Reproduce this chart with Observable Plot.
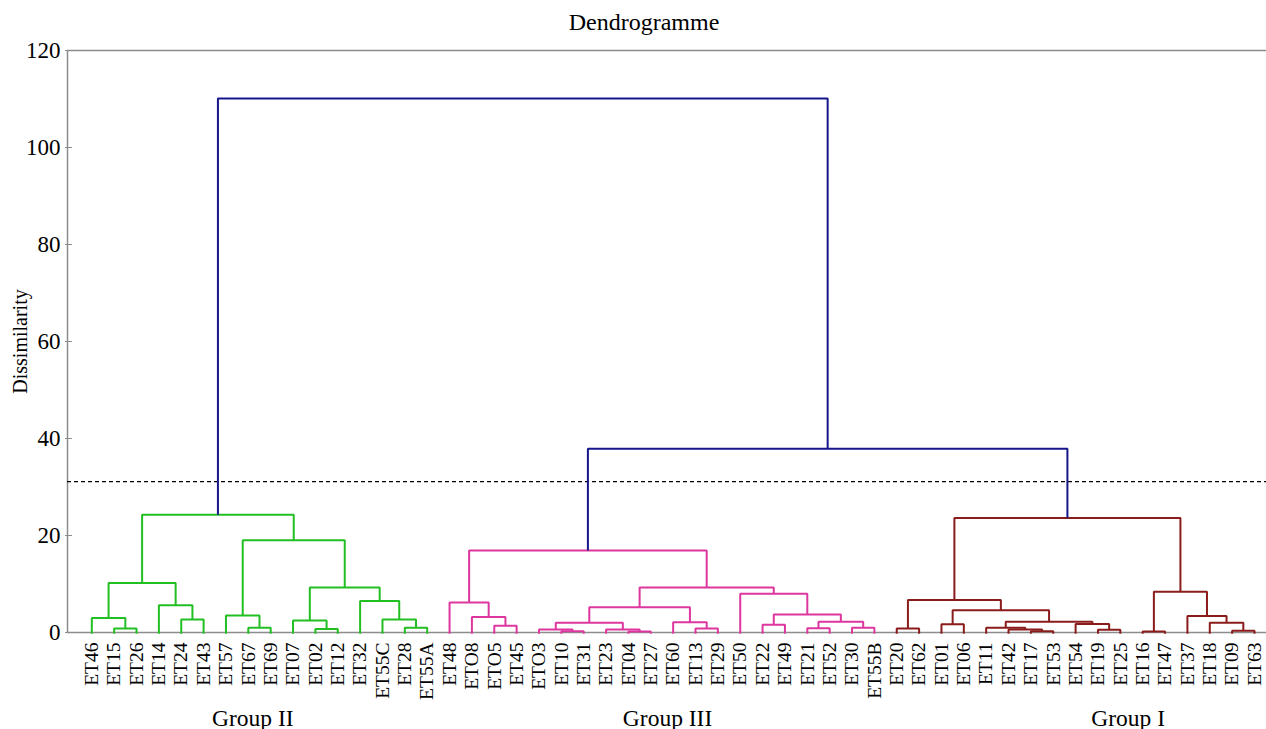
<!DOCTYPE html>
<html><head><meta charset="utf-8">
<script src="https://cdn.jsdelivr.net/npm/d3@7"></script>
<script src="https://cdn.jsdelivr.net/npm/@observablehq/plot@0.6"></script>
<style>body{margin:0;background:#fff} #chart svg{display:block}</style>
</head><body><div id="chart"></div>
<script>
// ---- data ----
const leaves = ["ET46","ET15","ET26","ET14","ET24","ET43","ET57","ET67","ET69","ET07","ET02","ET12","ET32","ET55C","ET28","ET55A",
  "ET48","ETO8","ETO5","ET45","ETO3","ET10","ET31","ET23","ET04","ET27","ET60","ET13","ET29","ET50","ET22","ET49","ET21","ET52","ET30","ET55B",
  "ET20","ET62","ET01","ET06","ET11","ET42","ET17","ET53","ET54","ET19","ET25","ET16","ET47","ET37","ET18","ET09","ET63"];
const leafGroups = [
  "II","II","II","II","II","II","II","II","II","II","II","II","II","II","II","II",
  "III","III","III","III","III","III","III","III","III","III","III","III","III","III","III","III","III","III","III","III",
  "I","I","I","I","I","I","I","I","I","I","I","I","I","I","I","I","I"];
// merges: [child A, child B, dissimilarity]; numbers refer to earlier merges
const merges = [
  ["ET15","ET26",0.8],   //0
  ["ET46",0,3.0],        //1
  ["ET24","ET43",2.7],   //2
  ["ET14",2,5.6],        //3
  [1,3,10.2],            //4
  ["ET67","ET69",1.0],   //5
  ["ET57",5,3.5],        //6
  ["ET02","ET12",0.7],   //7
  ["ET07",7,2.5],        //8
  ["ET28","ET55A",1.0],  //9
  ["ET55C",9,2.7],       //10
  ["ET32",10,6.5],       //11
  [8,11,9.3],            //12
  [6,12,19.0],           //13
  [4,13,24.3],           //14
  ["ETO5","ET45",1.4],   //15
  ["ETO8",15,3.2],       //16
  ["ET48",16,6.2],       //17
  ["ET10","ET31",0.25],  //18
  ["ETO3",18,0.6],       //19
  ["ET04","ET27",0.2],   //20
  ["ET23",20,0.6],       //21
  [19,21,2.0],           //22
  ["ET13","ET29",0.8],   //23
  ["ET60",23,2.1],       //24
  [22,24,5.2],           //25
  ["ET22","ET49",1.6],   //26
  ["ET21","ET52",0.9],   //27
  ["ET30","ET55B",1.0],  //28
  [27,28,2.2],           //29
  [26,29,3.7],           //30
  ["ET50",30,8.0],       //31
  [25,31,9.3],           //32
  [17,32,16.9],          //33
  ["ET20","ET62",0.8],   //34
  ["ET01","ET06",1.7],   //35
  ["ET17","ET53",0.25],  //36
  ["ET42",36,0.6],       //37
  ["ET11",37,1.0],       //38
  ["ET19","ET25",0.55],  //39
  ["ET54",39,1.75],      //40
  [38,40,2.2],           //41
  [35,41,4.6],           //42
  [34,42,6.7],           //43
  ["ET16","ET47",0.2],   //44
  ["ET09","ET63",0.35],  //45
  ["ET18",45,2.0],       //46
  ["ET37",46,3.4],       //47
  [44,47,8.4],           //48
  [43,48,23.6],          //49
  [33,49,37.9],          //50
  [14,50,110.1]          //51
];
const cutHeight = 31.1;
const yTicks = [0,20,40,60,80,100,120];
const groupLabels = ["Group II","Group III","Group I"];
const groupLabelPos = [7.2, 25.75, 46.35];
const title = "Dendrogramme";
const yLabel = "Dissimilarity";

// ---- build link paths ----
const nodes = new Map();
leaves.forEach((name,i)=>nodes.set(name,{x:i,h:0,group:leafGroups[i]}));
const links = [];
merges.forEach(([a,b,h],k)=>{
  const A = nodes.get(a), B = nodes.get(b);
  const group = A.group === B.group ? A.group : "root";
  nodes.set(k,{x:(A.x+B.x)/2,h,group});
  links.push({id:k,x:A.x,y:A.h,group},{id:k,x:A.x,y:h,group},{id:k,x:B.x,y:h,group},{id:k,x:B.x,y:B.h,group});
});
const leafIdx = leaves.map((d,i)=>i);
const xDomain = [-1.087, 52.537];
const gray = "#8c8c8c";

const chart = Plot.plot({
  width:1266, height:729,
  marginLeft:67, marginRight:0, marginTop:50, marginBottom:97,
  x:{domain:xDomain, axis:null},
  y:{domain:[0,120], axis:null},
  color:{domain:["II","III","I","root"], range:["#22bf22","#dd379f","#8b1c1c","#16168a"]},
  style:{fontFamily:"'Liberation Serif','Times New Roman',serif", background:"#fff", color:"#000", overflow:"visible"},
  marks:[
    Plot.ruleY([0,120],{stroke:gray,strokeWidth:1.5}),
    Plot.ruleX([xDomain[0]],{stroke:gray,strokeWidth:1.5}),
    Plot.axisY(yTicks,{tickSize:7,tickPadding:5,dx:5,fontSize:23,stroke:gray,fill:"#000",label:null}),
    Plot.ruleY([cutHeight],{stroke:"#000",strokeWidth:1.3,strokeDasharray:"4,3"}),
    Plot.line(links,{x:"x",y:"y",z:"id",stroke:"group",strokeWidth:2,curve:"linear",strokeLinejoin:"miter",strokeLinecap:"butt"}),
    Plot.ruleX(leafIdx,{x:d=>d,y1:0,y2:-0.35,stroke:d=>leafGroups[d],strokeWidth:2}),
    Plot.text(leaves,{x:(d,i)=>i,frameAnchor:"bottom",text:d=>d,rotate:-90,textAnchor:"end",lineAnchor:"middle",dy:10,fontSize:19.5,fill:"#000"}),
    Plot.text(groupLabels,{x:(d,i)=>groupLabelPos[i],frameAnchor:"bottom",text:d=>d,lineAnchor:"middle",dy:86,fontSize:23.5,fill:"#000"}),
    Plot.text([title],{frameAnchor:"top",text:d=>d,lineAnchor:"middle",dx:-23,dy:-28,fontSize:24,fill:"#000"}),
    Plot.text([yLabel],{frameAnchor:"left",text:d=>d,textAnchor:"middle",lineAnchor:"middle",dx:-47,rotate:-90,fontSize:20,fill:"#000"})
  ]
});
document.getElementById("chart").appendChild(chart);
</script>
</body></html>
